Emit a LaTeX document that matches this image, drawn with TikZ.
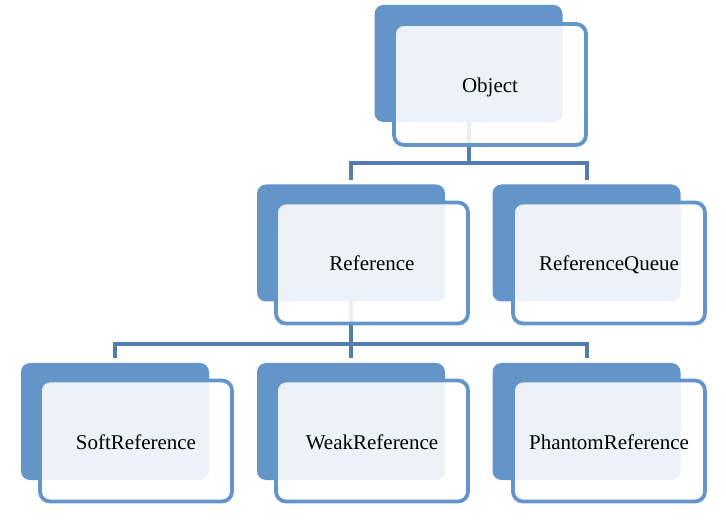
\documentclass[tikz,border=0pt]{standalone}
\usepackage{fontspec}
\setmainfont{Liberation Serif}
\definecolor{sablue}{RGB}{100,149,201}
\definecolor{conblue}{RGB}{84,124,172}
\pgfdeclarelayer{bg}
\pgfsetlayers{bg,main}
\begin{document}
\begin{tikzpicture}[x=1pt,y=-1pt,
  backbox/.style={rectangle,rounded corners=9pt,fill=sablue,minimum width=188pt,minimum height=117pt,inner sep=0pt},
  frontbox/.style={rectangle,rounded corners=10pt,draw=sablue,line width=3.8pt,fill=white,fill opacity=0.88,text opacity=1,minimum width=192pt,minimum height=121pt,inner sep=0pt,text height=16pt,text depth=0pt,font=\fontsize{21}{25}\selectfont},
  conn/.style={draw=conblue,line width=4pt}]
\useasboundingbox (0,0) rectangle (726,521);
\coordinate (bar1) at (0,163);
\coordinate (bar2) at (0,344);
% Object
\node[backbox] (objb) at (468.5,63.5) {};
\node[frontbox] (obj) at (490,84.5) {Object};
% Reference
\node[backbox] (refb) at (351,243) {};
\node[frontbox] (ref) at (372,263) {Reference};
% ReferenceQueue
\node[backbox] (queb) at (586.5,243) {};
\node[frontbox] (que) at (609,263) {ReferenceQueue};
% SoftReference
\node[backbox] (softb) at (115,421.5) {};
\node[frontbox] (soft) at (136,441) {SoftReference};
% WeakReference
\node[backbox] (weakb) at (351,421.5) {};
\node[frontbox] (weak) at (372,441) {WeakReference};
% PhantomReference
\node[backbox] (phanb) at (586.5,421.5) {};
\node[frontbox] (phan) at (609,441) {PhantomReference};
% connectors under everything
\begin{pgfonlayer}{bg}
\draw[conn] (objb.center) -- (objb.center |- bar1) -| ([yshift=4pt]refb.north);
\draw[conn] (objb.center |- bar1) -| ([yshift=4pt]queb.north);
\draw[conn] (refb.center) -- (refb.center |- bar2) -| ([yshift=5pt]softb.north);
\draw[conn] (refb.center |- bar2) -- ([yshift=5pt]weakb.north);
\draw[conn] (refb.center |- bar2) -| ([yshift=5pt]phanb.north);
\end{pgfonlayer}
\end{tikzpicture}
\end{document}
